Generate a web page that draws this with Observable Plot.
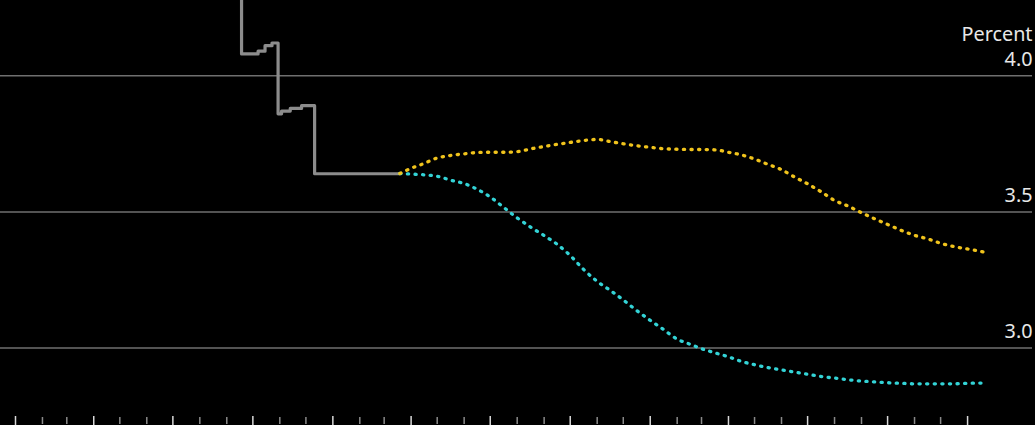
<!DOCTYPE html>
<html>
<head>
<meta charset="utf-8">
<script src="https://cdn.jsdelivr.net/npm/d3@7"></script>
<script src="https://cdn.jsdelivr.net/npm/@observablehq/plot@0.6"></script>
<style>
  html, body { margin: 0; padding: 0; background: #000; overflow: hidden; }
  #chart svg { display: block; }
</style>
</head>
<body>
<div id="chart"></div>
<script>
// Effective rate (history), step changes
const histDates = ["2024-12-15","2025-09-18","2025-10-07","2025-10-15","2025-10-23","2025-10-30","2025-11-03","2025-11-13","2025-11-26","2025-12-11","2026-03-19"];
const histValues = [4.33, 4.08, 4.09, 4.11, 4.12, 3.86, 3.87, 3.88, 3.89, 3.64, 3.64];

// Forward-implied paths
const fwdDates = ["2026-03-19","2026-04-01","2026-04-16","2026-05-01","2026-05-16","2026-06-01","2026-06-16","2026-07-01","2026-07-16","2026-08-01","2026-08-16","2026-09-01","2026-09-16","2026-10-01","2026-10-16","2026-11-01","2026-11-16","2026-12-01","2026-12-16","2027-01-01","2027-01-16","2027-02-01","2027-02-16","2027-03-01","2027-03-16","2027-04-01","2027-04-16","2027-05-01","2027-05-16","2027-06-01","2027-06-16","2027-07-01","2027-07-16","2027-08-01","2027-08-16","2027-09-01","2027-09-16","2027-10-01","2027-10-16","2027-11-01","2027-11-16","2027-12-01","2027-12-16","2028-01-01","2028-01-21"];
const yellowValues = [3.641,3.660,3.678,3.698,3.707,3.713,3.718,3.719,3.719,3.721,3.731,3.740,3.748,3.755,3.762,3.766,3.758,3.750,3.743,3.737,3.732,3.730,3.729,3.729,3.728,3.719,3.709,3.694,3.675,3.655,3.628,3.603,3.575,3.542,3.522,3.497,3.475,3.454,3.433,3.414,3.401,3.385,3.373,3.364,3.352];
const cyanValues = [3.641,3.639,3.636,3.631,3.617,3.604,3.583,3.555,3.518,3.478,3.445,3.413,3.381,3.340,3.290,3.245,3.212,3.177,3.139,3.102,3.069,3.033,3.014,2.998,2.983,2.968,2.951,2.939,2.929,2.920,2.912,2.904,2.896,2.890,2.884,2.879,2.876,2.873,2.871,2.869,2.869,2.869,2.869,2.871,2.872];

const yTicks = [3.0, 3.5, 4.0];
const yUnit = "Percent";

const hist = histDates.map((d, i) => ({date: new Date(d), value: histValues[i]}));
const yellow = fwdDates.map((d, i) => ({date: new Date(d), value: yellowValues[i]}));
const cyan = fwdDates.map((d, i) => ({date: new Date(d), value: cyanValues[i]}));

const months = d3.utcMonth.range(new Date("2025-01-01"), new Date("2028-01-02"));
const quarters = months.filter(d => d.getUTCMonth() % 3 === 0);
const minorMonths = months.filter(d => d.getUTCMonth() % 3 !== 0);

const font = "'Noto Sans', 'Open Sans', 'DejaVu Sans', sans-serif";

const chart = Plot.plot({
  width: 1035,
  height: 425,
  marginLeft: 0,
  marginRight: 3,
  marginTop: 0,
  marginBottom: 9,
  style: {background: "#000", color: "#ddd", fontFamily: font, overflow: "hidden"},
  x: {type: "utc", domain: [new Date("2024-12-14T18:00:00Z"), new Date("2028-03-15T16:00:00Z")], axis: null},
  y: {domain: [2.749, 4.276], axis: null},
  marks: [
    Plot.ruleY(yTicks, {stroke: "#6f6f6f", strokeWidth: 1.5}),
    Plot.text(yTicks, {
      y: d => d,
      text: d => d === 4.0 ? yUnit + "\n" + d.toFixed(1) : d.toFixed(1),
      frameAnchor: "right",
      textAnchor: "end",
      lineAnchor: "bottom",
      lineHeight: 1.25,
      dx: 0,
      dy: -10,
      fontSize: 19.8,
      fill: "#e8e8e8"
    }),
    Plot.axisX({ticks: quarters, tickSize: 14, stroke: "#d8d8d8", strokeWidth: 1.5, tickFormat: () => "", anchor: "bottom"}),
    Plot.axisX({ticks: minorMonths, tickSize: 7, stroke: "#8a8a8a", strokeWidth: 1.5, tickFormat: () => "", anchor: "bottom", dy: 1}),
    Plot.line(hist, {x: "date", y: "value", curve: "step-after", stroke: "#8c8c8c", strokeWidth: 3.2, clip: true}),
    Plot.line(cyan, {x: "date", y: "value", curve: "monotone-x", stroke: "#33d3d6", strokeWidth: 3.3, strokeDasharray: "1.2 6.4", strokeLinecap: "round"}),
    Plot.line(yellow, {x: "date", y: "value", curve: "monotone-x", stroke: "#f0c31c", strokeWidth: 3.3, strokeDasharray: "1.2 6.4", strokeLinecap: "round"})
  ]
});
document.getElementById("chart").appendChild(chart);
</script>
</body>
</html>
